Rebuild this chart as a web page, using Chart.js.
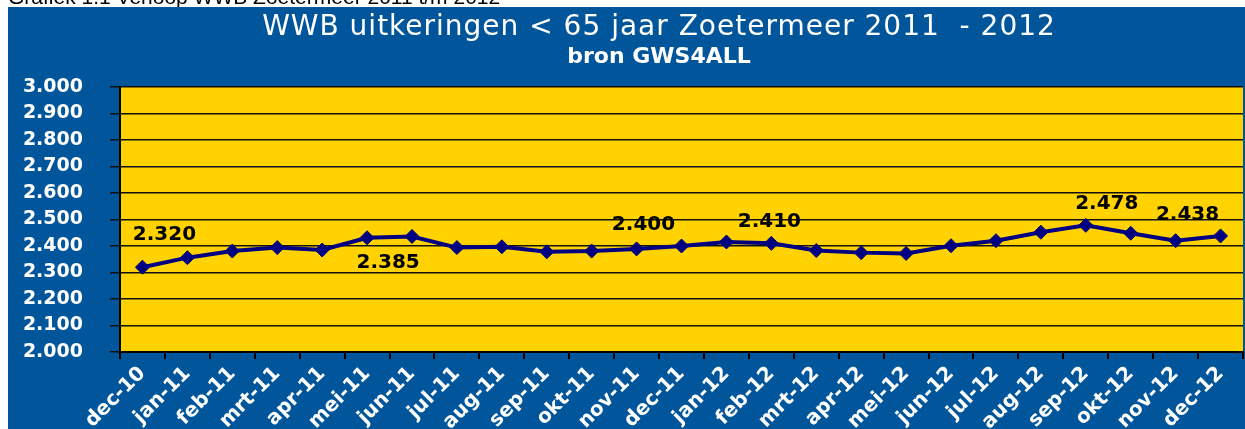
<!DOCTYPE html>
<html>
<head>
<meta charset="utf-8">
<script src="https://cdn.jsdelivr.net/npm/chart.js@4/dist/chart.umd.min.js"></script>
<style>
  html, body { margin: 0; padding: 0; background: #fff; overflow: hidden; }
  #wrap { position: relative; width: 1245px; height: 429px; }
</style>
</head>
<body>
<div id="wrap"><canvas id="chart"></canvas></div>
<script>
const CAPTION = 'Grafiek 1.1 Verloop WWB Zoetermeer 2011 t/m 2012';
const TITLE = 'WWB uitkeringen < 65 jaar Zoetermeer 2011  - 2012';
const SUBTITLE = 'bron GWS4ALL';

const MONTHS = [
  'dec-10', 'jan-11', 'feb-11', 'mrt-11', 'apr-11', 'mei-11', 'jun-11', 'jul-11', 'aug-11',
  'sep-11', 'okt-11', 'nov-11', 'dec-11', 'jan-12', 'feb-12', 'mrt-12', 'apr-12', 'mei-12',
  'jun-12', 'jul-12', 'aug-12', 'sep-12', 'okt-12', 'nov-12', 'dec-12',
];
const UITKERINGEN = [
  2320, 2356, 2381, 2394, 2385, 2431, 2436, 2394, 2397,
  2378, 2381, 2389, 2400, 2415, 2410, 2383, 2375, 2372,
  2401, 2420, 2452, 2478, 2448, 2420, 2438,
];
// months that carry a value label in the original
const LABELLED = [0, 4, 12, 14, 21, 24];
const Y_MIN = 2000;
const Y_MAX = 3000;
const Y_STEP = 100;

const BLUE = '#01559a';
const YELLOW = '#ffd200';
const NAVY = '#000080';
const FONT = 'DejaVu Sans';

function nl(v) {
  const s = String(Math.round(v));
  return s.length > 3 ? s.slice(0, -3) + '.' + s.slice(-3) : s;
}

// label nudges (px) relative to the point, as dragged in the original sheet
const LABEL_SHIFT = {
  0: [22, -32],
  4: [66, 13],
  12: [-38, -21],
  14: [-2, -22],
  21: [21, -22],
  24: [-33, -21],
};

const backdrop = {
  id: 'backdrop',
  beforeDraw(chart) {
    const { ctx, chartArea: a, width, height } = chart;
    ctx.save();
    ctx.fillStyle = '#fff';
    ctx.fillRect(0, 0, width, height);
    // caption of the report, its upper half hidden under the chart frame
    ctx.fillStyle = '#000';
    ctx.font = '21px "Liberation Sans", Arial, sans-serif';
    ctx.textBaseline = 'alphabetic';
    ctx.textAlign = 'left';
    ctx.fillText(CAPTION, 8, 4);
    ctx.fillStyle = BLUE;
    ctx.fillRect(8, 7, width - 8, height - 7);
    ctx.fillStyle = YELLOW;
    ctx.fillRect(a.left, a.top, a.right - a.left, a.bottom - a.top);

    ctx.fillStyle = '#fff';
    ctx.textAlign = 'center';
    ctx.font = `28px "${FONT}"`;
    ctx.letterSpacing = '1px';
    ctx.fillText(TITLE, 659, 35);
    ctx.letterSpacing = '0px';
    ctx.font = `bold 22px "${FONT}"`;
    ctx.fillText(SUBTITLE, 659, 63);
    ctx.restore();
  },
};

const valueLabels = {
  id: 'valueLabels',
  afterDatasetsDraw(chart) {
    const { ctx } = chart;
    const meta = chart.getDatasetMeta(0);
    ctx.save();
    ctx.fillStyle = '#000';
    ctx.font = `bold 20px "${FONT}"`;
    ctx.textAlign = 'center';
    ctx.textBaseline = 'middle';
    LABELLED.forEach((i) => {
      const pt = meta.data[i];
      const [dx, dy] = LABEL_SHIFT[i] || [0, -20];
      ctx.fillText(nl(UITKERINGEN[i]), pt.x + dx, pt.y + dy);
    });
    ctx.restore();
  },
};

new Chart(document.getElementById('chart'), {
  type: 'line',
  data: {
    labels: MONTHS,
    datasets: [
      {
        label: 'WWB uitkeringen',
        data: UITKERINGEN,
        borderColor: NAVY,
        backgroundColor: NAVY,
        borderWidth: 4,
        tension: 0,
        pointStyle: 'rectRot',
        pointRadius: 7,
        pointBackgroundColor: NAVY,
        pointBorderColor: NAVY,
        pointBorderWidth: 1,
      },
    ],
  },
  options: {
    responsive: true,
    maintainAspectRatio: false,
    animation: false,
    layout: { autoPadding: false, padding: { top: 87, left: 10, right: 2, bottom: 0 } },
    plugins: {
      legend: { display: false },
      tooltip: { enabled: false },
    },
    scales: {
      x: {
        offset: true,
        afterFit(scale) {
          scale.height = 77;
          scale.paddingLeft = 0;
          scale.paddingRight = 0;
        },
        grid: {
          offset: true,
          drawOnChartArea: false,
          drawTicks: true,
          tickLength: 7,
          color: '#000',
          lineWidth: 2,
        },
        border: { color: '#000', width: 2 },
        ticks: {
          color: '#fff',
          font: { family: FONT, size: 20, weight: 'bold' },
          autoSkip: false,
          minRotation: 45,
          maxRotation: 45,
          padding: 3,
        },
      },
      y: {
        min: Y_MIN,
        max: Y_MAX,
        afterFit(scale) {
          scale.width = 110;
          scale.paddingTop = 0;
          scale.paddingBottom = 0;
        },
        grid: { color: '#111', lineWidth: 1.5, tickLength: 10 },
        border: { color: '#000', width: 2 },
        ticks: {
          stepSize: Y_STEP,
          color: '#fff',
          padding: 27,
          font: { family: FONT, size: 19, weight: 'bold' },
          callback: (v) => nl(v),
        },
      },
    },
  },
  plugins: [backdrop, valueLabels],
});
</script>
</body>
</html>
